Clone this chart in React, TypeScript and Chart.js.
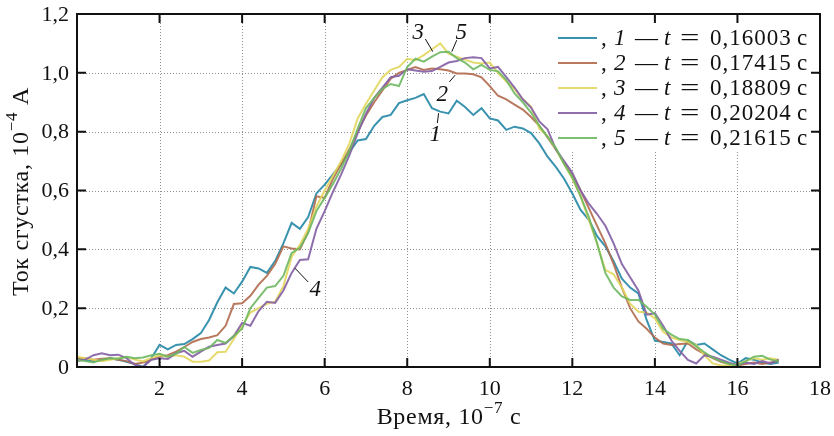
import React, { useEffect, useRef } from "react";
import { Chart, registerables } from "chart.js";
Chart.register(...registerables);

// Time, 10^-7 s
const TIME = [
  0, 0.2, 0.4, 0.6, 0.8, 1, 1.2, 1.4, 1.6, 1.8,
  2, 2.2, 2.4, 2.6, 2.8, 3, 3.2, 3.4, 3.6, 3.8,
  4, 4.2, 4.4, 4.6, 4.8, 5, 5.2, 5.4, 5.6, 5.8,
  6, 6.2, 6.4, 6.6, 6.8, 7, 7.2, 7.4, 7.6, 7.8,
  8, 8.2, 8.4, 8.6, 8.8, 9, 9.2, 9.4, 9.6, 9.8,
  10, 10.2, 10.4, 10.6, 10.8, 11, 11.2, 11.4, 11.6, 11.8,
  12, 12.2, 12.4, 12.6, 12.8, 13, 13.2, 13.4, 13.6, 13.8,
  14, 14.2, 14.4, 14.6, 14.8, 15, 15.2, 15.4, 15.6, 15.8,
  16, 16.2, 16.4, 16.6, 16.8, 17,
];

// Bunch current, 10^-4 A
const CURRENT_1 = [
  0.030, 0.025, 0.020, 0.022, 0.030, 0.025, 0.018, 0.010, 0.000, 0.030,
  0.075, 0.060, 0.075, 0.078, 0.095, 0.115, 0.160, 0.220, 0.270, 0.250,
  0.290, 0.340, 0.335, 0.320, 0.360, 0.420, 0.490, 0.470, 0.510, 0.590,
  0.620, 0.655, 0.690, 0.730, 0.770, 0.775, 0.820, 0.850, 0.857, 0.897,
  0.907, 0.915, 0.928, 0.880, 0.868, 0.862, 0.905, 0.884, 0.857, 0.880,
  0.845, 0.838, 0.806, 0.817, 0.811, 0.795, 0.760, 0.715, 0.680, 0.640,
  0.590, 0.534, 0.500, 0.445, 0.410, 0.360, 0.300, 0.270, 0.250, 0.160,
  0.090, 0.085, 0.080, 0.040, 0.090, 0.075, 0.080, 0.060, 0.040, 0.025,
  0.012, 0.030, 0.025, 0.015, 0.010, 0.015,
];
const CURRENT_2 = [
  0.030, 0.030, 0.025, 0.028, 0.030, 0.025, 0.020, 0.010, 0.015, 0.025,
  0.035, 0.040, 0.052, 0.068, 0.085, 0.095, 0.100, 0.108, 0.140, 0.214,
  0.217, 0.242, 0.280, 0.310, 0.350, 0.410, 0.403, 0.400, 0.460, 0.580,
  0.575, 0.640, 0.690, 0.740, 0.800, 0.855, 0.900, 0.940, 0.980, 1.000,
  1.010, 1.020, 1.010, 1.015, 1.012, 1.008, 0.998, 0.998, 0.995, 0.985,
  0.955, 0.922, 0.910, 0.892, 0.875, 0.850, 0.820, 0.780, 0.740, 0.695,
  0.650, 0.600, 0.540, 0.480, 0.420, 0.350, 0.270, 0.200, 0.155, 0.130,
  0.100, 0.080, 0.075, 0.078, 0.080, 0.060, 0.045, 0.030, 0.018, 0.010,
  0.005, 0.010, 0.015, 0.010, 0.015, 0.020,
];
const CURRENT_3 = [
  0.035, 0.030, 0.025, 0.020, 0.025, 0.030, 0.035, 0.025, 0.020, 0.030,
  0.040, 0.035, 0.040, 0.035, 0.018, 0.018, 0.022, 0.050, 0.052, 0.095,
  0.140, 0.185, 0.200, 0.215, 0.222, 0.275, 0.375, 0.415, 0.470, 0.545,
  0.600, 0.650, 0.700, 0.760, 0.845, 0.895, 0.940, 0.985, 1.010, 1.020,
  1.048, 1.043, 1.060, 1.080, 1.100, 1.065, 1.055, 1.045, 1.035, 1.032,
  1.035, 1.000, 0.970, 0.945, 0.910, 0.885, 0.810, 0.785, 0.740, 0.690,
  0.640, 0.580, 0.500, 0.420, 0.330, 0.315, 0.270, 0.215, 0.188, 0.185,
  0.165, 0.120, 0.100, 0.092, 0.085, 0.075, 0.040, 0.012, 0.005, 0.005,
  0.010, 0.020, 0.030, 0.025, 0.030, 0.025,
];
const CURRENT_4 = [
  0.020, 0.025, 0.040, 0.047, 0.040, 0.042, 0.030, 0.007, 0.000, 0.025,
  0.030, 0.027, 0.047, 0.055, 0.035, 0.052, 0.069, 0.075, 0.080, 0.105,
  0.150, 0.140, 0.190, 0.222, 0.218, 0.260, 0.320, 0.364, 0.366, 0.470,
  0.530, 0.595, 0.655, 0.720, 0.795, 0.860, 0.915, 0.950, 0.985, 0.990,
  1.012, 1.008, 1.004, 1.006, 1.020, 1.035, 1.040, 1.050, 1.053, 1.050,
  1.015, 1.020, 0.985, 0.950, 0.910, 0.882, 0.835, 0.808, 0.740, 0.700,
  0.660, 0.600, 0.555, 0.520, 0.480, 0.420, 0.350, 0.305, 0.260, 0.178,
  0.183, 0.140, 0.090, 0.055, 0.024, 0.012, 0.040, 0.035, 0.025, 0.015,
  0.007, 0.015, 0.010, 0.020, 0.012, 0.025,
];
const CURRENT_5 = [
  0.024, 0.020, 0.015, 0.025, 0.030, 0.028, 0.035, 0.030, 0.032, 0.040,
  0.045, 0.035, 0.045, 0.068, 0.048, 0.058, 0.065, 0.092, 0.082, 0.105,
  0.130, 0.200, 0.235, 0.270, 0.275, 0.310, 0.388, 0.405, 0.455, 0.530,
  0.575, 0.622, 0.675, 0.735, 0.810, 0.880, 0.915, 0.945, 0.962, 0.955,
  1.020, 1.048, 1.038, 1.055, 1.070, 1.072, 1.050, 1.035, 1.012, 1.027,
  1.010, 1.005, 0.975, 0.930, 0.900, 0.865, 0.820, 0.782, 0.745, 0.690,
  0.645, 0.580, 0.510, 0.420, 0.320, 0.270, 0.240, 0.228, 0.228, 0.205,
  0.178, 0.130, 0.110, 0.095, 0.092, 0.070, 0.050, 0.032, 0.020, 0.010,
  0.005, 0.020, 0.035, 0.038, 0.025, 0.020,
];

const SERIES = [CURRENT_1, CURRENT_2, CURRENT_3, CURRENT_4, CURRENT_5];
const SERIES_NUMBERS = ["1", "2", "3", "4", "5"];
const SERIES_TIMES = ["0,16003", "0,17415", "0,18809", "0,20204", "0,21615"];
const COLORS = [
  "rgba(40,138,168,0.92)",
  "rgba(176,106,78,0.9)",
  "rgba(226,214,92,0.9)",
  "rgba(134,98,166,0.92)",
  "rgba(110,184,98,0.9)",
];

const X_TICKS = [2, 4, 6, 8, 10, 12, 14, 16, 18];
const X_TICK_LABELS = ["2", "4", "6", "8", "10", "12", "14", "16", "18"];
const Y_TICKS = [0, 0.2, 0.4, 0.6, 0.8, 1.0, 1.2];
const Y_TICK_LABELS = ["0", "0,2", "0,4", "0,6", "0,8", "1,0", "1,2"];

// curve labels (data coordinates)
const CURVE_LABELS = [
  { text: "3", x: 8.27, y: 1.135, x1: 8.44, y1: 1.115, x2: 8.62, y2: 1.072 },
  { text: "5", x: 9.31, y: 1.135, x1: 9.2, y1: 1.111, x2: 9.08, y2: 1.072 },
  { text: "2", x: 8.85, y: 0.925, x1: 9.02, y1: 0.969, x2: 9.16, y2: 0.992 },
  { text: "1", x: 8.68, y: 0.789, x1: 8.73, y1: 0.829, x2: 8.76, y2: 0.863 },
  { text: "4", x: 5.77, y: 0.262, x1: 5.6, y1: 0.289, x2: 5.28, y2: 0.336 },
];

const SERIF = '"Liberation Serif", "Times New Roman", serif';

type Part = { text: string; italic?: boolean; sup?: boolean };

function drawParts(ctx: CanvasRenderingContext2D, parts: Part[], x: number, y: number, size: number, align: string, spacing: number) {
  const fontOf = (p: Part) => `${p.italic ? "italic " : ""}${p.sup ? Math.round(size * 0.7) : size}px ${SERIF}`;
  (ctx as any).letterSpacing = `${spacing}px`;
  const widths = parts.map((p) => {
    ctx.font = fontOf(p);
    return ctx.measureText(p.text).width;
  });
  const total = widths.reduce((a, b) => a + b, 0);
  let cx = align === "center" ? x - total / 2 : align === "right" ? x - total : x;
  ctx.textAlign = "left";
  ctx.textBaseline = "middle";
  parts.forEach((p, i) => {
    ctx.font = fontOf(p);
    ctx.fillText(p.text, cx, p.sup ? y - size * 0.38 : y);
    cx += widths[i];
  });
  (ctx as any).letterSpacing = "0px";
}

const decor = {
  id: "decor",
  beforeDatasetsDraw(chart: any) {
    const { ctx, chartArea: a, scales } = chart;
    const xs = scales.x, ys = scales.y;
    ctx.save();
    // dotted grid
    ctx.strokeStyle = "#8f8f8f";
    ctx.lineWidth = 1;
    ctx.setLineDash([1, 2]);
    X_TICKS.forEach((v) => {
      if (v <= xs.min || v >= xs.max) return;
      const px = Math.round(xs.getPixelForValue(v)) + 0.5;
      ctx.beginPath();
      ctx.moveTo(px, a.top);
      ctx.lineTo(px, a.bottom);
      ctx.stroke();
    });
    Y_TICKS.forEach((v) => {
      if (v <= ys.min || v >= ys.max) return;
      const py = Math.round(ys.getPixelForValue(v)) + 0.5;
      ctx.beginPath();
      ctx.moveTo(a.left, py);
      ctx.lineTo(a.right, py);
      ctx.stroke();
    });
    ctx.setLineDash([]);
    // legend box background
    ctx.fillStyle = "#ffffff";
    ctx.fillRect(a.right - 264, a.top + 8, 262, 128);
    ctx.restore();
  },
  afterDatasetsDraw(chart: any) {
    const { ctx, chartArea: a, scales } = chart;
    const xs = scales.x, ys = scales.y;
    ctx.save();
    // frame
    ctx.strokeStyle = "#111";
    ctx.lineWidth = 2;
    ctx.strokeRect(a.left, a.top, a.right - a.left, a.bottom - a.top);
    // inside ticks
    const TL = 9;
    X_TICKS.forEach((v) => {
      if (v <= xs.min || v >= xs.max) return;
      const px = xs.getPixelForValue(v);
      ctx.beginPath();
      ctx.moveTo(px, a.bottom);
      ctx.lineTo(px, a.bottom - TL);
      ctx.moveTo(px, a.top);
      ctx.lineTo(px, a.top + TL);
      ctx.stroke();
    });
    Y_TICKS.forEach((v) => {
      if (v <= ys.min || v >= ys.max) return;
      const py = ys.getPixelForValue(v);
      ctx.beginPath();
      ctx.moveTo(a.left, py);
      ctx.lineTo(a.left + TL, py);
      ctx.moveTo(a.right, py);
      ctx.lineTo(a.right - TL, py);
      ctx.stroke();
    });
    // tick labels
    ctx.fillStyle = "#111";
    ctx.font = `22px ${SERIF}`;
    ctx.textBaseline = "middle";
    ctx.textAlign = "center";
    X_TICKS.forEach((v, i) => {
      ctx.fillText(X_TICK_LABELS[i], xs.getPixelForValue(v), a.bottom + 22);
    });
    ctx.textAlign = "right";
    Y_TICKS.forEach((v, i) => {
      ctx.fillText(Y_TICK_LABELS[i], a.left - 8, ys.getPixelForValue(v) + 1);
    });
    // axis titles
    drawParts(ctx, [{ text: "Время, 10" }, { text: "−7", sup: true }, { text: " с" }], (a.left + a.right) / 2 + 0.5, a.bottom + 51, 24, "center", 0.7);
    ctx.save();
    ctx.translate(22, (a.top + a.bottom) / 2 + 1);
    ctx.rotate(-Math.PI / 2);
    drawParts(ctx, [{ text: "Ток сгустка, 10" }, { text: "−4", sup: true }, { text: " А" }], 0, 0, 24, "center", 0.7);
    ctx.restore();
    // legend
    const lx = a.right - 262;
    SERIES_NUMBERS.forEach((n, i) => {
      const ry = a.top + 24 + i * 25;
      ctx.strokeStyle = COLORS[i];
      ctx.lineWidth = 2.2;
      ctx.beginPath();
      ctx.moveTo(lx, ry);
      ctx.lineTo(lx + 39, ry);
      ctx.stroke();
      ctx.fillStyle = "#111";
      ctx.textBaseline = "middle";
      ctx.textAlign = "left";
      ctx.font = `23px ${SERIF}`;
      ctx.fillText(",", lx + 43, ry + 1);
      ctx.font = `italic 23px ${SERIF}`;
      ctx.fillText(n, lx + 56, ry + 1);
      ctx.font = `23px ${SERIF}`;
      ctx.fillText("—", lx + 77, ry + 1);
      ctx.font = `italic 23px ${SERIF}`;
      ctx.fillText("t", lx + 106, ry + 1);
      ctx.font = `23px ${SERIF}`;
      ctx.save();
      ctx.scale(1.5, 1);
      ctx.fillText("=", (lx + 122) / 1.5, ry + 1);
      ctx.restore();
      (ctx as any).letterSpacing = "1px";
      ctx.fillText(SERIES_TIMES[i], lx + 152, ry + 1);
      (ctx as any).letterSpacing = "0px";
      ctx.fillText("с", lx + 239, ry + 1);
    });
    // curve labels with leader lines
    ctx.strokeStyle = "#111";
    ctx.lineWidth = 1;
    ctx.fillStyle = "#111";
    CURVE_LABELS.forEach((c) => {
      ctx.beginPath();
      ctx.moveTo(xs.getPixelForValue(c.x1), ys.getPixelForValue(c.y1));
      ctx.lineTo(xs.getPixelForValue(c.x2), ys.getPixelForValue(c.y2));
      ctx.stroke();
      ctx.font = `italic 23px ${SERIF}`;
      ctx.textAlign = "center";
      ctx.textBaseline = "middle";
      ctx.fillText(c.text, xs.getPixelForValue(c.x), ys.getPixelForValue(c.y));
    });
    ctx.restore();
  },
};

export default function App() {
  const ref = useRef<HTMLCanvasElement>(null);
  useEffect(() => {
    if (!ref.current) return;
    const chart = new Chart(ref.current, {
      type: "line",
      data: {
        datasets: SERIES.map((s, i) => ({
          label: SERIES_NUMBERS[i],
          data: TIME.map((t, j) => ({ x: t, y: s[j] })),
          borderColor: COLORS[i],
          borderWidth: 2,
          pointRadius: 0,
          tension: 0,
          fill: false,
          order: 5 - i,
        })),
      },
      options: {
        responsive: false,
        animation: false,
        devicePixelRatio: 1,
        events: [],
        layout: { padding: { left: 77, right: 14, top: 14, bottom: 69 } },
        scales: {
          x: { type: "linear", min: 0, max: 18, display: false },
          y: { type: "linear", min: 0, max: 1.2, display: false },
        },
        plugins: { legend: { display: false }, tooltip: { enabled: false } },
      },
      plugins: [decor],
    } as any);
    return () => chart.destroy();
  }, []);
  return (
    <div style={{ position: "absolute", left: 0, top: 0, width: 834, height: 436, background: "#fff" }}>
      <canvas ref={ref} width={834} height={436} style={{ display: "block" }} />
    </div>
  );
}
